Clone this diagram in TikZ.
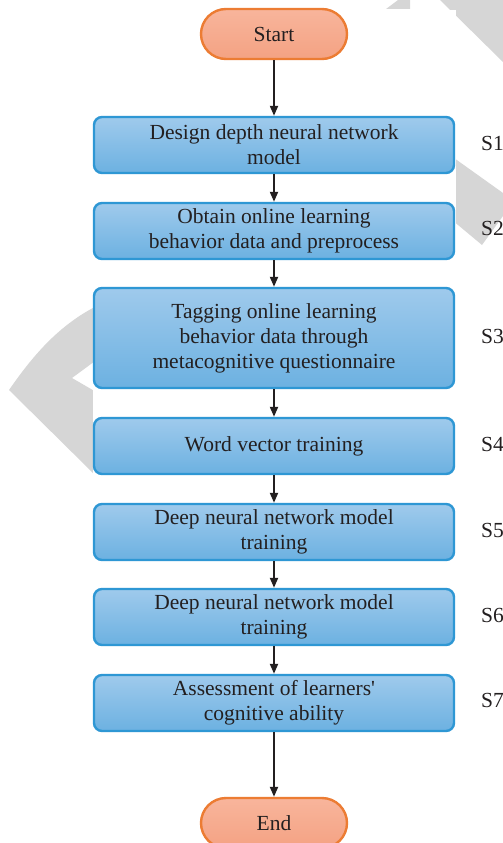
\documentclass[tikz,border=0pt]{standalone}
\usepackage{fontspec}
\setmainfont{Liberation Serif}
\usepackage{xcolor}
\usetikzlibrary{arrows.meta}

\definecolor{boxline}{HTML}{2E97D4}
\definecolor{boxtop}{HTML}{9FCAEC}
\definecolor{boxbot}{HTML}{6CB1E1}
\definecolor{endline}{HTML}{EC7C33}
\definecolor{endtop}{HTML}{F8B59C}
\definecolor{endbot}{HTML}{F4A283}
\definecolor{inkcol}{HTML}{231F20}
\definecolor{markgray}{HTML}{D6D6D6}

\tikzset{
  stepbox/.style={draw=boxline, line width=2.4pt, rounded corners=8pt,
    top color=boxtop, bottom color=boxbot, minimum width=360pt,
    minimum height=56pt, align=center, text=inkcol,
    font=\fontsize{21.5}{25}\selectfont},
  terminal/.style={draw=endline, line width=2.4pt, rounded corners=25pt,
    top color=endtop, bottom color=endbot, minimum width=146pt,
    minimum height=50pt, text=inkcol, font=\fontsize{21.5}{25}\selectfont},
  steplabel/.style={anchor=west, text=inkcol, inner sep=0pt,
    font=\fontsize{21.5}{25}\selectfont},
  flow/.style={-{Triangle[length=10pt,width=8pt]}, line width=2pt, draw=inkcol}
}

\begin{document}
\begin{tikzpicture}[x=1pt, y=-1pt]
  \useasboundingbox (0,0) rectangle (503,843);

  % Watermark
  \fill[markgray] (440,0) -- (503,0) -- (503,62) -- cycle;
  \fill[markgray] (386,9) -- (398,0) -- (410,0) -- (410,9) -- cycle;
  \fill[markgray] (440,148) -- (503,193) -- (503,216) -- (482,245) -- (440,210) -- cycle;
  \fill[markgray] (110,300) .. controls (60,320) and (30,360) .. (9,390)
    -- (93,473) -- (110,473) -- (110,400) -- (72,378) -- (110,350) -- cycle;
  \fill[white] (93,10) rectangle (456,843);

  % Terminals
  \node[terminal] (start) at (274,34) {Start};
  \node[terminal] (end) at (274,823) {End};

  % Steps
  \node[stepbox] (s1) at (274,145) {Design depth neural network\\model};
  \node[stepbox] (s2) at (274,231) {Obtain online learning\\behavior data and preprocess};
  \node[stepbox, minimum height=100pt] (s3) at (274,338)
    {Tagging online learning\\behavior data through\\metacognitive questionnaire};
  \node[stepbox] (s4) at (274,446) {Word vector training};
  \node[stepbox] (s5) at (274,532) {Deep neural network model\\training};
  \node[stepbox] (s6) at (274,617) {Deep neural network model\\training};
  \node[stepbox] (s7) at (274,703) {Assessment of learners\textquotesingle\\cognitive ability};

  % Step labels
  \node[steplabel] (l1) at (481,143) {S1};
  \node[steplabel] (l2) at (481,228) {S2};
  \node[steplabel] (l3) at (481,336) {S3};
  \node[steplabel] (l4) at (481,444) {S4};
  \node[steplabel] (l5) at (481,530) {S5};
  \node[steplabel] (l6) at (481,615) {S6};
  \node[steplabel] (l7) at (481,700) {S7};

  % Arrows
  \draw[flow] (start) -- (s1);
  \draw[flow] (s1) -- (s2);
  \draw[flow] (s2) -- (s3);
  \draw[flow] (s3) -- (s4);
  \draw[flow] (s4) -- (s5);
  \draw[flow] (s5) -- (s6);
  \draw[flow] (s6) -- (s7);
  \draw[flow] (s7) -- (end);
\end{tikzpicture}
\end{document}
